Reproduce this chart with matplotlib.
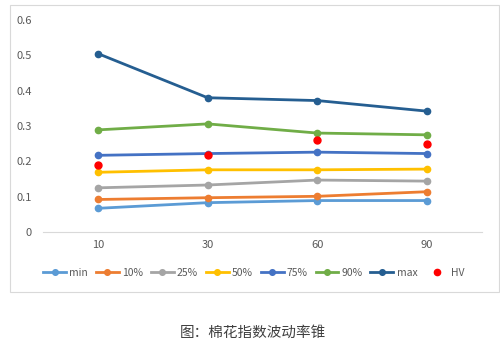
import matplotlib.pyplot as plt
import matplotlib.patches as patches

plt.rcParams['font.family'] = ['Noto Sans CJK SC', 'DejaVu Sans']

periods = ['10', '30', '60', '90']
v_min = [0.067, 0.083, 0.089, 0.089]
v_10 = [0.092, 0.097, 0.101, 0.114]
v_25 = [0.125, 0.133, 0.147, 0.144]
v_50 = [0.169, 0.176, 0.176, 0.178]
v_75 = [0.217, 0.222, 0.226, 0.222]
v_90 = [0.289, 0.306, 0.280, 0.275]
v_max = [0.505, 0.380, 0.372, 0.342]
hv = [0.190, 0.217, 0.261, 0.250]

series = [('min', v_min, '#5B9BD5'), ('10%', v_10, '#ED7D31'),
          ('25%', v_25, '#A5A5A5'), ('50%', v_50, '#FFC000'),
          ('75%', v_75, '#4472C4'), ('90%', v_90, '#70AD47'),
          ('max', v_max, '#255E91')]

fig = plt.figure(figsize=(5, 3.53), dpi=100)
fig.patches.append(patches.Rectangle((10 / 500, 1 - 292 / 353), 489 / 500, 287 / 353,
                                     transform=fig.transFigure, fill=False,
                                     edgecolor='#D9D9D9', linewidth=0.8))
ax = fig.add_axes([0.086, 0.3428, 0.878, 0.6005])

x = list(range(len(periods)))
for name, vals, c in series:
    ax.plot(x, vals, color=c, linewidth=2, marker='o', markersize=4.5, label=name)
ax.plot(x, hv, linestyle='none', marker='o', markersize=5, color='#FF0000', label='HV')

ax.set_xlim(-0.5, 3.5)
ax.set_ylim(0, 0.6)
ax.set_xticks(x)
ax.set_xticklabels(periods)
ax.set_yticks([0, 0.1, 0.2, 0.3, 0.4, 0.5, 0.6])
ax.set_yticklabels(['0', '0.1', '0.2', '0.3', '0.4', '0.5', '0.6'])
for s in ['top', 'right', 'left']:
    ax.spines[s].set_visible(False)
ax.spines['bottom'].set_color('#D9D9D9')
ax.tick_params(axis='both', length=0, labelsize=8, labelcolor='#595959')
ax.tick_params(axis='y', pad=8)
ax.tick_params(axis='x', pad=6)

fig.legend(loc='center', bbox_to_anchor=(0.508, 1 - 273 / 353), ncol=8, frameon=False,
           fontsize=7.5, labelcolor='#595959', handlelength=2.2, handletextpad=0.3,
           columnspacing=0.75, markerscale=0.9)

fig.text(0.506, 1 - 333 / 353, '图：棉花指数波动率锥', ha='center', va='center',
         fontsize=10.5, color='#404040')

fig.savefig('out.png', dpi=100)
